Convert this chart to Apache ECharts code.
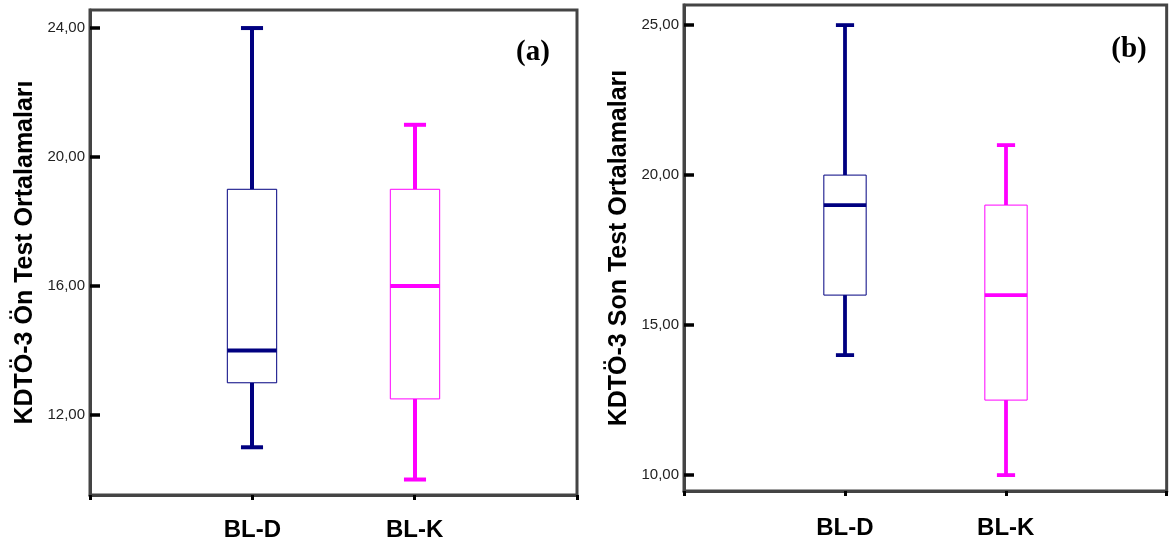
<!DOCTYPE html>
<html>
<head>
<meta charset="utf-8">
<script src="https://cdn.jsdelivr.net/npm/echarts@6/dist/echarts.min.js"></script>
<style>
html,body{margin:0;padding:0;background:#fff;}
#chart{width:1173px;height:542px;}
</style>
</head>
<body>
<div id="chart"></div>
<script>
// ---- data ----
const categories = ['BL-D', 'BL-K'];
const groupColors = ['#000080', '#ff00ff'];

// (a) KDTÖ-3 Ön Test
const preMin    = [11, 10];
const preQ1     = [13, 12.5];
const preMedian = [14, 16];
const preQ3     = [19, 19];
const preMax    = [24, 21];
const preTicks  = [12, 16, 20, 24];

// (b) KDTÖ-3 Son Test
const postMin    = [14, 10];
const postQ1     = [16, 12.5];
const postMedian = [19, 16];
const postQ3     = [20, 19];
const postMax    = [25, 21];
const postTicks  = [10, 15, 20, 25];

const preTitle  = 'KDTÖ-3 Ön Test Ortalamaları';
const postTitle = 'KDTÖ-3 Son Test Ortalamaları';
const panelLabels = ['(a)', '(b)'];

// ---- build ----
const FONT = "'Liberation Sans', Arial, sans-serif";
const axisCats = [''].concat(categories).concat([' ']);

function rows(mn, q1, md, q3, mx) {
  return categories.map((c, i) => [c, mn[i], q1[i], md[i], q3[i], mx[i]]);
}

function makeRender(boxRatio, capRatio, lw) {
  return function (params, api) {
    const x = api.value(0);
    const pMin = api.coord([x, api.value(1)]);
    const pQ1 = api.coord([x, api.value(2)]);
    const pMed = api.coord([x, api.value(3)]);
    const pQ3 = api.coord([x, api.value(4)]);
    const pMax = api.coord([x, api.value(5)]);
    const band = api.size([1, 0])[0];
    const bw = band * boxRatio, cw = band * capRatio;
    const cx = Math.round(pMin[0]);
    const color = groupColors[params.dataIndex];
    const thick = { stroke: color, lineWidth: lw, fill: null };
    return {
      type: 'group',
      children: [
        { type: 'line', shape: { x1: cx, y1: pMax[1], x2: cx, y2: pQ3[1] }, style: thick },
        { type: 'line', shape: { x1: cx, y1: pQ1[1], x2: cx, y2: pMin[1] }, style: thick },
        { type: 'line', shape: { x1: cx - cw / 2, y1: pMax[1], x2: cx + cw / 2, y2: pMax[1] }, style: thick },
        { type: 'line', shape: { x1: cx - cw / 2, y1: pMin[1], x2: cx + cw / 2, y2: pMin[1] }, style: thick },
        { type: 'rect', shape: { x: cx - bw / 2, y: pQ3[1], width: bw, height: pQ1[1] - pQ3[1] },
          style: { stroke: color, lineWidth: 1, fill: '#fff' } },
        { type: 'line', shape: { x1: cx - bw / 2, y1: pMed[1], x2: cx + bw / 2, y2: pMed[1] }, style: thick }
      ]
    };
  };
}

function fmt(v) { return v.toFixed(2).replace('.', ','); }

function yAxisFor(idx, min, max, ticks, name) {
  return {
    type: 'value', gridIndex: idx, min: min, max: max,
    name: name, nameLocation: 'middle', nameGap: 52, nameRotate: 90,
    nameTextStyle: { fontFamily: FONT, fontWeight: 'bold', fontSize: 25, color: '#000' },
    axisLine: { show: true, lineStyle: { color: '#444', width: 3 } },
    axisTick: { show: true, inside: true, length: 10, customValues: ticks, lineStyle: { color: '#000', width: 3.5 } },
    axisLabel: { show: true, customValues: ticks, margin: 5, formatter: fmt,
      fontFamily: FONT, fontSize: 15, color: '#222' },
    splitLine: { show: false }
  };
}

function xAxisFor(idx, margin) {
  return {
    type: 'category', gridIndex: idx, data: axisCats, boundaryGap: false,
    axisLine: { show: true, lineStyle: { color: '#444', width: 3 } },
    axisTick: { show: true, length: 5, alignWithLabel: true, lineStyle: { color: '#000', width: 3 } },
    axisLabel: { show: true, interval: 0, margin: margin, fontFamily: FONT, fontWeight: 'bold', fontSize: 24, color: '#000' },
    splitLine: { show: false }
  };
}

const chart = echarts.init(document.getElementById('chart'), null, { renderer: 'canvas' });
chart.setOption({
  animation: false,
  backgroundColor: '#fff',
  grid: [
    { left: 90, top: 10, width: 487, height: 485, show: true, borderColor: '#444', borderWidth: 3, backgroundColor: 'transparent' },
    { left: 684, top: 5, width: 487, height: 486, show: true, borderColor: '#444', borderWidth: 3, backgroundColor: 'transparent' }
  ],
  xAxis: [xAxisFor(0, 23), xAxisFor(1, 25)],
  yAxis: [
    yAxisFor(0, 9.52, 24.56, preTicks, preTitle),
    yAxisFor(1, 9.47, 25.67, postTicks, postTitle)
  ],
  graphic: [
    { type: 'text', x: 533, y: 53, style: { text: panelLabels[0], fontFamily: "'Liberation Serif', 'Times New Roman', serif",
      fontWeight: 'bold', fontSize: 29, fill: '#000', textAlign: 'center', textVerticalAlign: 'middle' } },
    { type: 'text', x: 1129, y: 50, style: { text: panelLabels[1], fontFamily: "'Liberation Serif', 'Times New Roman', serif",
      fontWeight: 'bold', fontSize: 29, fill: '#000', textAlign: 'center', textVerticalAlign: 'middle' } }
  ],
  series: [
    { type: 'custom', xAxisIndex: 0, yAxisIndex: 0, renderItem: makeRender(0.304, 0.136, 4),
      encode: { x: 0, y: [1, 2, 3, 4, 5] }, data: rows(preMin, preQ1, preMedian, preQ3, preMax), z: 5 },
    { type: 'custom', xAxisIndex: 1, yAxisIndex: 1, renderItem: makeRender(0.263, 0.113, 3.8),
      encode: { x: 0, y: [1, 2, 3, 4, 5] }, data: rows(postMin, postQ1, postMedian, postQ3, postMax), z: 5 }
  ]
});
</script>
</body>
</html>
